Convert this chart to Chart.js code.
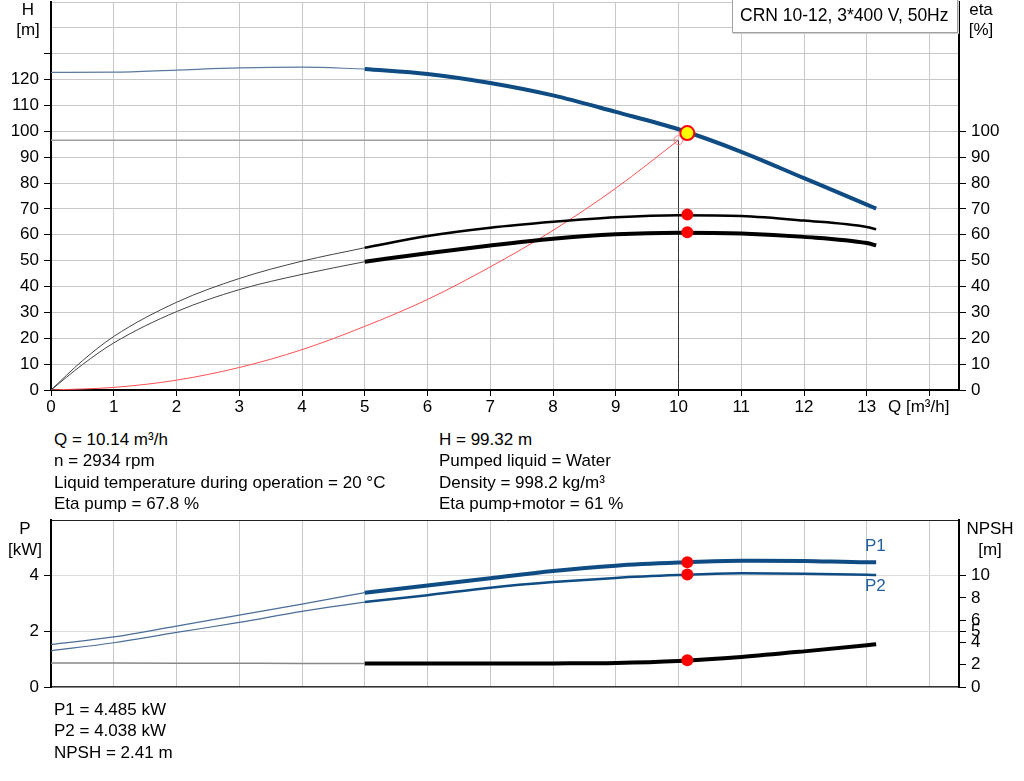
<!DOCTYPE html>
<html lang="en">
<head>
<meta charset="UTF-8">
<title>CRN 10-12 pump curves</title>
<script src="https://cdn.jsdelivr.net/npm/chart.js"></script>
<style>
  body { margin: 0; background: #fff; font-family: Arial, "Liberation Sans", sans-serif; }
  #wrap { position: relative; width: 1024px; height: 781px; overflow: hidden; }
  canvas { position: absolute; left: 0; }
  .t { position: absolute; font-size: 17px; line-height: 20px; color: #000; white-space: nowrap; }
  .c { transform: translateX(-50%); text-align: center; }
  #box { position: absolute; left: 732px; top: -1px; width: 226px; height: 34px; border: 1px solid #a0a0a0;
         box-shadow: 1px 1px 0 #d0d0d0; background: #fff; box-sizing: border-box; }
</style>
</head>
<body>
<div id="wrap">
  <canvas id="topChart" width="1024" height="438" style="top:-13px"></canvas>
  <canvas id="botChart" width="1024" height="202" style="top:500px"></canvas>

  <div class="t c" style="left:28px; top:0px">H</div>
  <div class="t c" style="left:28px; top:20px">[m]</div>
  <div class="t c" style="left:981px; top:0px">eta</div>
  <div class="t c" style="left:981px; top:20px">[%]</div>
  <div id="box"><div class="t" style="left:7px; top:5px; font-size:17.5px">CRN 10-12, 3*400 V, 50Hz</div></div>
  <div class="t" style="left:888px; top:397px">Q [m³/h]</div>

  <div class="t" style="left:54px; top:430px">Q = 10.14 m³/h</div>
  <div class="t" style="left:54px; top:451px">n = 2934 rpm</div>
  <div class="t" style="left:54px; top:473px">Liquid temperature during operation = 20 °C</div>
  <div class="t" style="left:54px; top:494px">Eta pump = 67.8 %</div>
  <div class="t" style="left:439px; top:430px">H = 99.32 m</div>
  <div class="t" style="left:439px; top:451px">Pumped liquid = Water</div>
  <div class="t" style="left:439px; top:473px">Density = 998.2 kg/m³</div>
  <div class="t" style="left:439px; top:494px">Eta pump+motor = 61 %</div>

  <div class="t c" style="left:25px; top:519px">P</div>
  <div class="t c" style="left:25px; top:540px">[kW]</div>
  <div class="t c" style="left:990px; top:519px">NPSH</div>
  <div class="t c" style="left:990px; top:540px">[m]</div>
  <div class="t" style="left:865px; top:536px; color:#1f5f9f">P1</div>
  <div class="t" style="left:865px; top:576px; color:#1f5f9f">P2</div>

  <div class="t" style="left:54px; top:700px">P1 = 4.485 kW</div>
  <div class="t" style="left:54px; top:721px">P2 = 4.038 kW</div>
  <div class="t" style="left:54px; top:743px">NPSH = 2.41 m</div>
</div>

<script>
// flow points [m3/h]
const qMain = [0, 1, 2, 3, 4, 5, 6, 7, 8, 9, 10, 11, 12, 13, 13.15];
const qEta = [0, 0.5, 1, 2, 3, 4, 5, 6, 7, 8, 9, 10, 11, 12, 13, 13.15];
const qSys = [0, 1, 2, 3, 4, 5, 6, 7, 8, 9, 10];

// curves
const head = [122.8, 122.9, 123.7, 124.5, 124.8, 124.1, 122.2, 118.7, 113.9, 107.5, 100.8, 92.1, 81.9, 71.7, 70.1];
const etaPump = [0, 11.3, 20.7, 33.9, 43.1, 49.8, 55.0, 59.5, 62.7, 65.0, 66.8, 67.6, 67.3, 65.5, 63.0, 62.1];
const etaTotal = [0, 9.8, 18.2, 30.3, 38.8, 44.7, 49.6, 52.9, 55.9, 58.5, 60.2, 60.8, 60.5, 59.2, 56.8, 55.9];
const sysHead = [0, 1.0, 3.8, 8.7, 15.6, 24.6, 35.0, 47.6, 61.7, 78.0, 96.6];
const p1 = [1.53, 1.80, 2.19, 2.58, 2.98, 3.39, 3.65, 3.91, 4.17, 4.36, 4.47, 4.54, 4.53, 4.48, 4.48];
const p2 = [1.30, 1.59, 1.96, 2.32, 2.72, 3.05, 3.30, 3.57, 3.77, 3.92, 4.02, 4.09, 4.07, 4.03, 4.02];
const npsh = [2.16, 2.15, 2.14, 2.13, 2.12, 2.10, 2.10, 2.10, 2.12, 2.16, 2.34, 2.70, 3.20, 3.76, 3.85];

// duty point (required) and operating point
const dutyQ = 10, dutyH = 96.6;
const opQ = 10.14, opH = 99.32, opEtaPump = 67.8, opEtaTotal = 61;
const opP1 = 4.485, opP2 = 4.038, opNpsh = 2.41;

// tick labels
const xTicks = [0, 1, 2, 3, 4, 5, 6, 7, 8, 9, 10, 11, 12, 13, 14];
const hTicks = [0, 10, 20, 30, 40, 50, 60, 70, 80, 90, 100, 110, 120, 130, 140, 150];
const etaTicks = [0, 10, 20, 30, 40, 50, 60, 70, 80, 90, 100];
const pTicks = [0, 2, 4, 6];
const npshTicks = [0, 2, 4, 5, 6, 8, 10];

const xMax = 14.47;
const blue = '#0f4c84';
const gridCol = '#c8c8c8';

Chart.defaults.font.family = 'Arial, "Liberation Sans", sans-serif';
Chart.defaults.font.size = 17;
Chart.defaults.font.lineHeight = 20 / 17;
Chart.defaults.color = '#000';

function pts(q, v, from, to) {
  const out = [];
  q.forEach((x, i) => { if (x >= from && x <= to) out.push({ x: x, y: v[i] }); });
  return out;
}
function curve(data, axis, color, width) {
  return { data: data, yAxisID: axis, borderColor: color, borderWidth: width, pointRadius: 0,
           cubicInterpolationMode: 'monotone', fill: false };
}
function marker(x, y, axis, r, fill, border, bw) {
  return { data: [{ x: x, y: y }], yAxisID: axis, showLine: false, pointRadius: r,
           pointBackgroundColor: fill, pointBorderColor: border, pointBorderWidth: bw };
}
function fixTicks(list) {
  return function (scale) { scale.ticks = list.map(v => ({ value: v })); };
}
function fixSize(w, h) {
  return function (scale) {
    if (w !== null) scale.width = w;
    if (h !== null) scale.height = h;
  };
}

new Chart(document.getElementById('topChart'), {
  type: 'line',
  data: {
    datasets: [
      marker(opQ, opH, 'h', 7, '#ffff00', '#ff0000', 2),
      marker(opQ, opEtaPump, 'eta', 6, '#ff0000', '#ff0000', 0),
      marker(opQ, opEtaTotal, 'eta', 6, '#ff0000', '#ff0000', 0),
      marker(dutyQ, dutyH, 'h', 4.5, 'rgba(0,0,0,0)', '#ff8080', 1),
      curve(pts(qMain, head, 5, 14), 'h', blue, 4),
      curve(pts(qMain, head, 0, 5), 'h', '#5a7aa0', 1.2),
      curve(pts(qEta, etaPump, 5, 14), 'eta', '#000', 2.5),
      curve(pts(qEta, etaPump, 0, 5), 'eta', '#444', 1),
      curve(pts(qEta, etaTotal, 5, 14), 'eta', '#000', 4),
      curve(pts(qEta, etaTotal, 0, 5), 'eta', '#444', 1),
      curve(pts(qSys, sysHead, 0, 10), 'h', '#ff5050', 1),
      curve([{ x: 0, y: dutyH }, { x: dutyQ, y: dutyH }], 'h', '#a0a0a0', 1.5),
      curve([{ x: dutyQ, y: dutyH }, { x: dutyQ, y: 0 }], 'h', '#333', 1)
    ]
  },
  options: {
    responsive: false,
    animation: false,
    devicePixelRatio: 1,
    layout: { padding: 0 },
    plugins: { legend: { display: false }, tooltip: { enabled: false } },
    scales: {
      x: {
        type: 'linear', min: 0, max: xMax,
        afterBuildTicks: fixTicks(xTicks),
        afterFit: fixSize(null, 35),
        ticks: { padding: 1, maxRotation: 0, callback: v => (v <= 13 ? String(v) : '') },
        grid: { color: gridCol, tickLength: 6, tickColor: '#000' },
        border: { color: '#000', width: 2 }
      },
      h: {
        type: 'linear', position: 'left', min: 0, max: 150,
        afterBuildTicks: fixTicks(hTicks),
        afterFit: fixSize(51, null),
        ticks: { padding: 5, callback: v => (v <= 120 ? String(v) : '') },
        grid: { color: gridCol, tickLength: 7,
                tickColor: ctx => (ctx.tick && ctx.tick.value >= 140 ? 'rgba(0,0,0,0)' : '#000') },
        border: { color: '#000', width: 2 }
      },
      eta: {
        type: 'linear', position: 'right', min: 0, max: 150,
        afterBuildTicks: fixTicks(etaTicks),
        afterFit: fixSize(65, null),
        ticks: { padding: 5 },
        grid: { drawOnChartArea: false, tickLength: 7, tickColor: '#000' },
        border: { color: '#000', width: 2 }
      }
    }
  }
});

new Chart(document.getElementById('botChart'), {
  type: 'line',
  data: {
    datasets: [
      marker(opQ, opP1, 'p', 6, '#ff0000', '#ff0000', 0),
      marker(opQ, opP2, 'p', 6, '#ff0000', '#ff0000', 0),
      marker(opQ, opNpsh, 'npsh', 6, '#ff0000', '#ff0000', 0),
      curve(pts(qMain, p1, 5, 14), 'p', blue, 4),
      curve(pts(qMain, p1, 0, 5), 'p', '#4a6d99', 1.2),
      curve(pts(qMain, p2, 5, 14), 'p', blue, 2.5),
      curve(pts(qMain, p2, 0, 5), 'p', '#4a6d99', 1.2),
      curve(pts(qMain, npsh, 5, 14), 'npsh', '#000', 4),
      curve(pts(qMain, npsh, 0, 5), 'npsh', '#888', 1.5)
    ]
  },
  options: {
    responsive: false,
    animation: false,
    devicePixelRatio: 1,
    layout: { padding: { top: 20 } },
    plugins: { legend: { display: false }, tooltip: { enabled: false } },
    scales: {
      x: {
        type: 'linear', min: 0, max: xMax,
        afterBuildTicks: fixTicks(xTicks),
        afterFit: fixSize(null, 13),
        ticks: { display: false },
        grid: { color: gridCol, drawTicks: false },
        border: { color: '#333', width: 1.5 }
      },
      p: {
        type: 'linear', position: 'left', min: 0, max: 6,
        afterBuildTicks: fixTicks(pTicks),
        afterFit: fixSize(51, null),
        ticks: { padding: 5, callback: v => (v < 6 ? String(v) : '') },
        grid: { color: ctx => (ctx.tick && ctx.tick.value === 6 ? '#222' : '#dcdcdc'), tickLength: 7,
                tickColor: ctx => (ctx.tick && ctx.tick.value === 6 ? 'rgba(0,0,0,0)' : '#000') },
        border: { color: '#000', width: 2 }
      },
      npsh: {
        type: 'linear', position: 'right', min: 0, max: 15,
        afterBuildTicks: fixTicks(npshTicks),
        afterFit: fixSize(65, null),
        ticks: { padding: 5 },
        grid: { drawOnChartArea: false, tickLength: 7, tickColor: '#000' },
        border: { color: '#000', width: 2 }
      }
    }
  }
});
</script>
</body>
</html>
